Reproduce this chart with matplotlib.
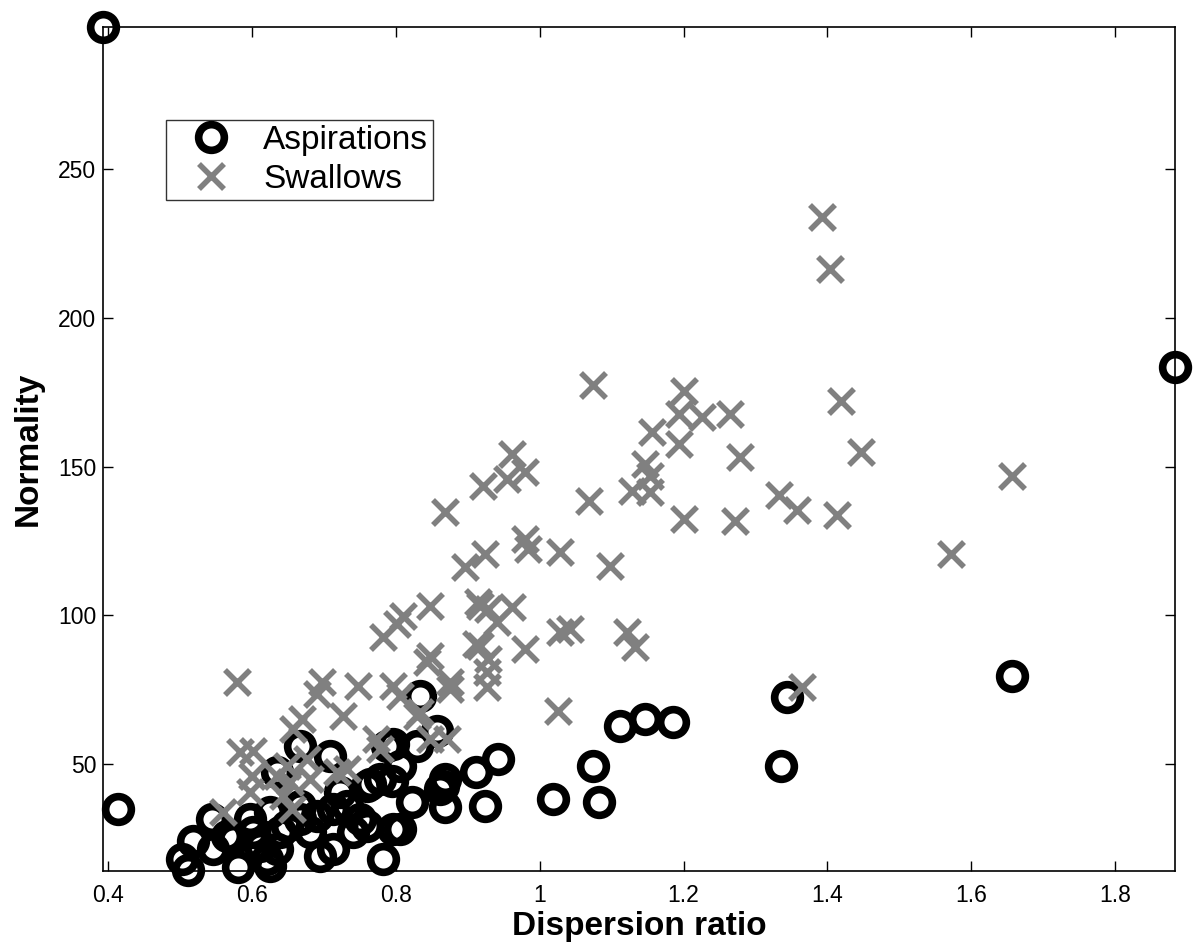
import matplotlib
matplotlib.use("Agg")
import matplotlib.pyplot as plt
from matplotlib.ticker import FuncFormatter

plt.rcParams['font.family'] = ['Liberation Sans', 'DejaVu Sans']

# Aspirations (black circles)
asp_x = [0.393, 1.883, 1.657, 1.344, 1.336, 1.146, 1.111, 1.185, 1.074, 1.083,
         1.018, 0.942, 0.924, 0.912, 0.868, 0.861, 0.868, 0.822, 0.806, 0.782,
         0.829, 0.833, 0.857, 0.796, 0.806, 0.794, 0.764, 0.413, 0.503, 0.511,
         0.518, 0.544, 0.546, 0.581, 0.574, 0.601, 0.621, 0.625, 0.611, 0.635,
         0.639, 0.625, 0.635, 0.667, 0.708, 0.649, 0.667, 0.690, 0.722, 0.713,
         0.694, 0.713, 0.750, 0.760, 0.778, 0.760, 0.796, 0.732, 0.667, 0.788,
         0.865, 0.597, 0.565, 0.681, 0.740]
asp_y = [298.0, 183.4, 79.6, 72.5, 49.3, 65.1, 62.8, 64.1, 49.3, 37.2,
         38.2, 51.7, 35.9, 47.3, 45.0, 41.6, 35.5, 37.2, 28.1, 18.1,
         56.0, 73.0, 61.0, 56.7, 49.3, 44.3, 43.3, 34.9, 18.1, 14.5,
         24.1, 31.5, 21.4, 15.4, 24.8, 27.1, 18.1, 15.7, 22.4, 21.4,
         27.1, 33.9, 47.3, 56.0, 52.7, 29.2, 31.5, 32.5, 40.6, 34.9,
         19.1, 21.4, 31.5, 42.6, 45.0, 29.2, 28.1, 35.9, 35.9, 56.0,
         42.6, 31.5, 25.8, 27.1, 27.1]

# Swallows (gray crosses)
swa_x = [1.392, 1.403, 1.074, 1.201, 1.194, 1.226, 1.264, 1.156, 1.194, 1.278,
         1.146, 1.153, 1.128, 1.153, 1.068, 1.201, 1.271, 1.333, 1.358, 1.419,
         1.447, 1.414, 1.572, 1.656, 0.961, 0.979, 0.954, 0.921, 0.868, 0.979,
         0.983, 1.028, 0.924, 0.896, 1.097, 0.847, 0.914, 0.928, 0.962, 0.940,
         0.912, 0.928, 0.979, 1.028, 1.042, 1.122, 1.132, 0.810, 0.847, 0.926,
         1.025, 1.364, 0.843, 0.875, 0.871, 0.833, 0.579, 0.583, 0.601, 0.600,
         0.597, 0.560, 0.697, 0.690, 0.669, 0.657, 0.726, 0.747, 0.782, 0.801,
         0.796, 0.806, 0.829, 0.773, 0.778, 0.847, 0.676, 0.648, 0.635, 0.653,
         0.681, 0.718, 0.643, 0.655, 0.732, 0.917, 0.926, 0.875, 0.917]
swa_y = [233.9, 216.4, 177.4, 175.4, 167.6, 166.6, 167.6, 161.6, 157.6, 153.2,
         150.8, 146.8, 141.8, 141.4, 138.4, 132.4, 131.7, 140.5, 135.5, 172.0,
         154.9, 133.7, 120.6, 146.8, 154.2, 148.2, 145.8, 143.4, 134.7, 125.6,
         122.3, 121.3, 120.6, 116.2, 116.6, 103.1, 104.5, 102.1, 102.8, 97.7,
         90.3, 85.3, 88.7, 94.4, 95.4, 94.4, 89.3, 99.7, 86.3, 75.9,
         67.8, 75.9, 84.3, 75.2, 58.4, 67.5, 77.6, 54.0, 54.4, 46.0,
         40.6, 33.9, 77.6, 73.5, 65.1, 61.8, 66.1, 76.2, 92.7, 97.1,
         76.2, 72.9, 66.1, 58.4, 55.0, 58.4, 51.7, 49.3, 46.0, 43.9,
         45.0, 47.3, 39.2, 34.9, 48.3, 89.7, 81.0, 77.6, 103.1]

x_ticks = [0.4, 0.6, 0.8, 1.0, 1.2, 1.4, 1.6, 1.8]
y_ticks = [50, 100, 150, 200, 250]

fig = plt.figure(figsize=(12, 9.5), dpi=100)
ax = fig.add_axes([0.086, 0.083, 0.893, 0.889])

ax.plot(asp_x, asp_y, 'o', mfc='none', mec='black', ms=18.5, mew=5.5,
        linestyle='none', clip_on=False, label='Aspirations')
ax.plot(swa_x, swa_y, 'x', color='#808080', ms=18, mew=4,
        linestyle='none', clip_on=False, label='Swallows')

ax.set_xlim(0.393, 1.883)
ax.set_ylim(14, 298)
ax.set_xticks(x_ticks)
ax.set_yticks(y_ticks)
ax.xaxis.set_major_formatter(FuncFormatter(lambda v, p: '%g' % v))
ax.tick_params(direction='in', length=7, width=1, labelsize=16.5,
               top=True, right=True)
ax.tick_params(axis='x', pad=9)
ax.tick_params(axis='y', pad=5)
for s in ax.spines.values():
    s.set_linewidth(1.2)

ax.set_xlabel('Dispersion ratio', fontsize=24, fontweight='bold', labelpad=3)
ax.set_ylabel('Normality', fontsize=24, fontweight='bold', labelpad=10)

leg = ax.legend(loc='upper left', bbox_to_anchor=(0.059, 0.89), fontsize=24,
                frameon=True, fancybox=False, edgecolor='black',
                borderaxespad=0, handletextpad=0.35, borderpad=0.15,
                labelspacing=0.25, handlelength=2.4)
leg.get_frame().set_linewidth(1.0)

fig.savefig('out.png', dpi=100)
